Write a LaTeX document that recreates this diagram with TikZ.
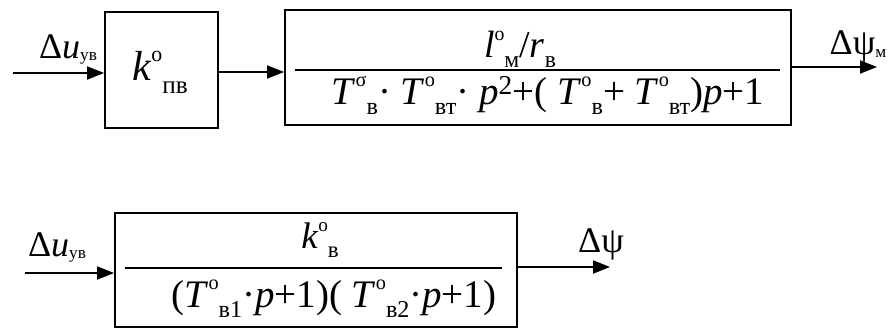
\documentclass[tikz,border=0pt]{standalone}
\usepackage{fontspec}
\setmainfont{Liberation Serif}
\usepackage{graphicx}
\usetikzlibrary{arrows.meta}
\newcommand\dg{\raisebox{0.44em}{\scalebox{0.52}{o}}}
\newcommand\sg{\raisebox{0.44em}{\scalebox{0.52}{σ}}}
\newcommand\lsub[1]{\raisebox{-0.27em}{\scalebox{0.62}{#1}}}
\newcommand\ksub[1]{\raisebox{-0.32em}{\scalebox{0.6}{#1}}}
\newcommand\ssub[1]{\raisebox{-0.06em}{\scalebox{0.48}{#1}}}
\newcommand\ii[1]{\textit{#1}}
\begin{document}
\begin{tikzpicture}[x=1pt,y=-1pt,
  blk/.style={draw,line width=1.8pt,minimum width=#1,inner sep=0pt},
  conn/.style={line width=1.8pt,-{Triangle[length=17pt,width=13pt]}},
  frac/.style={line width=1.6pt},
  txtn/.style={anchor=base,inner sep=0pt,font=\fontsize{38}{38}\selectfont},
  txt/.style={anchor=base,inner sep=0pt,font=\fontsize{39}{39}\selectfont},
  txtb/.style={anchor=base,inner sep=0pt,font=\fontsize{37}{37}\selectfont},
  big/.style={anchor=base,inner sep=0pt,font=\fontsize{36}{36}\selectfont},
  kbig/.style={anchor=base,inner sep=0pt,font=\fontsize{42}{42}\selectfont}]
\useasboundingbox (0,0) rectangle (890,329);
% top row
\node[blk=113pt,minimum height=116pt] (b1) at (161.5,70) {};
\node[blk=506pt,minimum height=115pt] (b2) at (538,67.5) {};
\draw[frac] (295,70) -- (780,70);
\node[kbig] (k1) at (160,80) {\ii{k}\dg\ksub{пв}};
\node[txtn] (n1) at (520,57) {\ii{l}\dg\lsub{м}/\ii{r}\lsub{в}};
\node[txt] (d1) at (548,104) {\ii{T}\sg\lsub{в}· \ii{T}\dg\lsub{вт}· \ii{p}\textsuperscript{2}+( \ii{T}\dg\lsub{в}+ \ii{T}\dg\lsub{вт})\ii{p}+1};
\coordinate (in1) at (13,73);
\coordinate (out1) at (877,67);
\node[big] (lu1) at (68,58) {Δ\ii{u}\ssub{ув}};
\node[big] (lp1) at (858,55) {Δψ\ssub{м}};
\draw[conn] (in1) -- (in1 -| b1.west);
\draw[conn] (b1.east |- 0,72) -- (b2.west |- 0,72);
\draw[conn] (out1 -| b2.east) -- (out1);
% bottom row
\node[blk=402pt,minimum height=114pt] (b3) at (316,270) {};
\draw[frac] (125,268) -- (502,268);
\node[txtb] (n2) at (320,248) {\ii{k}\dg\lsub{в}};
\node[txt] (d2) at (334,307) {(\ii{T}\dg\lsub{в1}·\ii{p}+1)( \ii{T}\dg\lsub{в2}·\ii{p}+1)};
\coordinate (in2) at (25,273);
\coordinate (out2) at (610,267);
\node[big] (lu2) at (57,256) {Δ\ii{u}\ssub{ув}};
\node[big] (lp2) at (601,252) {Δψ};
\draw[conn] (in2) -- (in2 -| b3.west);
\draw[conn] (out2 -| b3.east) -- (out2);
\end{tikzpicture}
\end{document}
